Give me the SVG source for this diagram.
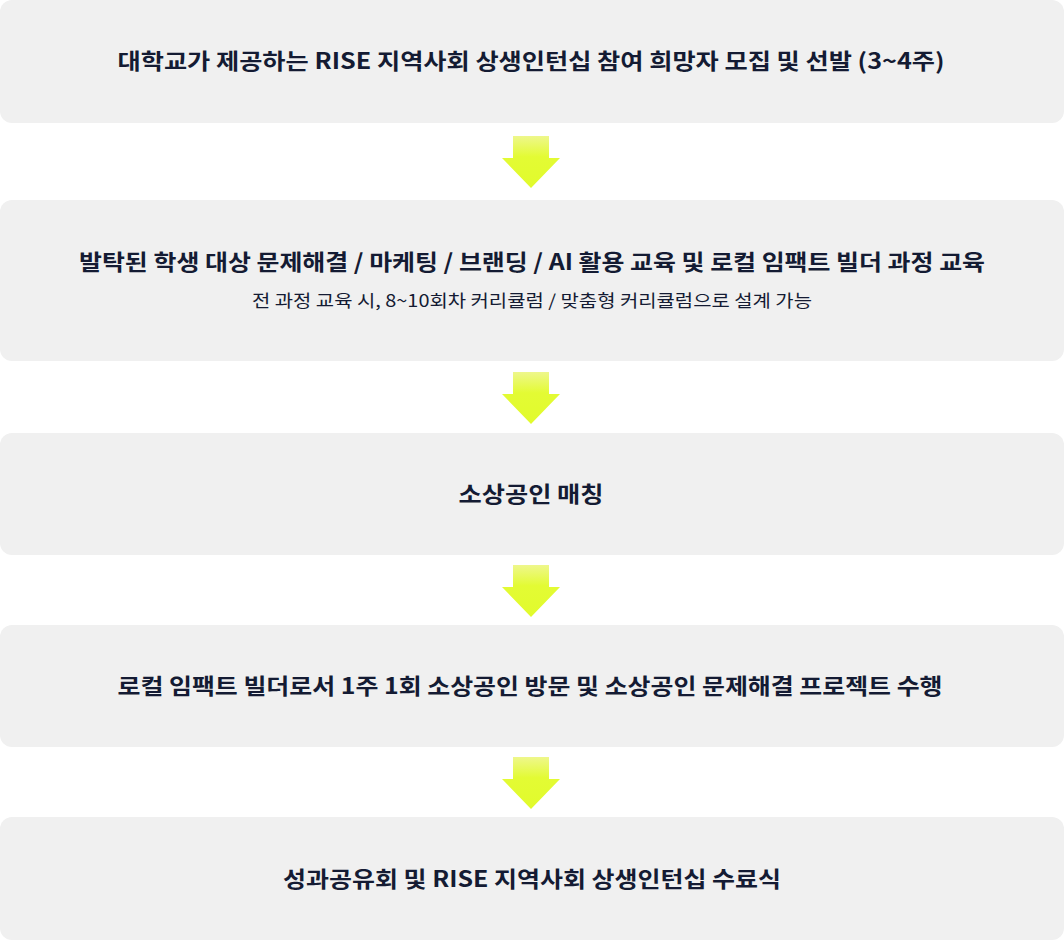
<svg xmlns="http://www.w3.org/2000/svg" width="1064" height="940" viewBox="0 0 1064 940">
<style>
.box{fill:#f0f0f0}
.t{font-family:"Noto Sans CJK KR","Noto Sans",sans-serif;font-weight:700;font-size:22px;fill:#141b33;text-anchor:middle}
.s{font-family:"Noto Sans CJK KR","Noto Sans",sans-serif;font-weight:400;font-size:17px;fill:#141b33;text-anchor:middle}
.ar{fill:url(#g)}
</style>
<defs>
<linearGradient id="g" x1="0" y1="0" x2="0" y2="1">
<stop offset="0" stop-color="#eef78c"/>
<stop offset="0.4" stop-color="#e3fb34"/>
<stop offset="1" stop-color="#e1fb2c"/>
</linearGradient>
<path id="arrow" d="M-18,0 H18 V22 H29 L0,52 L-29,22 H-18 Z"/>
</defs>
<rect width="1064" height="940" fill="#fff"/>
<g id="n1"><rect class="box" x="0" y="0" width="1064" height="123" rx="12"/><text class="t" x="531" y="69" textLength="827" lengthAdjust="spacingAndGlyphs">대학교가 제공하는 RISE 지역사회 상생인턴십 참여 희망자 모집 및 선발 (3~4주)</text></g>
<g id="n2"><rect class="box" x="0" y="200" width="1064" height="161" rx="12"/><text class="t" x="532" y="270" textLength="906" lengthAdjust="spacingAndGlyphs">발탁된 학생 대상 문제해결 / 마케팅 / 브랜딩 / AI 활용 교육 및 로컬 임팩트 빌더 과정 교육</text><text class="s" x="532" y="307" textLength="560" lengthAdjust="spacingAndGlyphs">전 과정 교육 시, 8~10회차 커리큘럼 /  맞춤형 커리큘럼으로 설계 가능</text></g>
<g id="n3"><rect class="box" x="0" y="433" width="1064" height="122" rx="12"/><text class="t" x="531" y="502" textLength="145" lengthAdjust="spacingAndGlyphs">소상공인 매칭</text></g>
<g id="n4"><rect class="box" x="0" y="625" width="1064" height="122" rx="12"/><text class="t" x="530" y="694" textLength="825" lengthAdjust="spacingAndGlyphs">로컬 임팩트 빌더로서 1주 1회 소상공인 방문 및 소상공인 문제해결 프로젝트 수행</text></g>
<g id="n5"><rect class="box" x="0" y="817" width="1064" height="123" rx="12"/><text class="t" x="532" y="887" textLength="498" lengthAdjust="spacingAndGlyphs">성과공유회 및 RISE 지역사회 상생인턴십 수료식</text></g>
<g id="connectors">
<use href="#arrow" class="ar" x="531" y="136"/>
<use href="#arrow" class="ar" x="531" y="372"/>
<use href="#arrow" class="ar" x="531" y="565"/>
<use href="#arrow" class="ar" x="531" y="757"/>
</g>
</svg>
